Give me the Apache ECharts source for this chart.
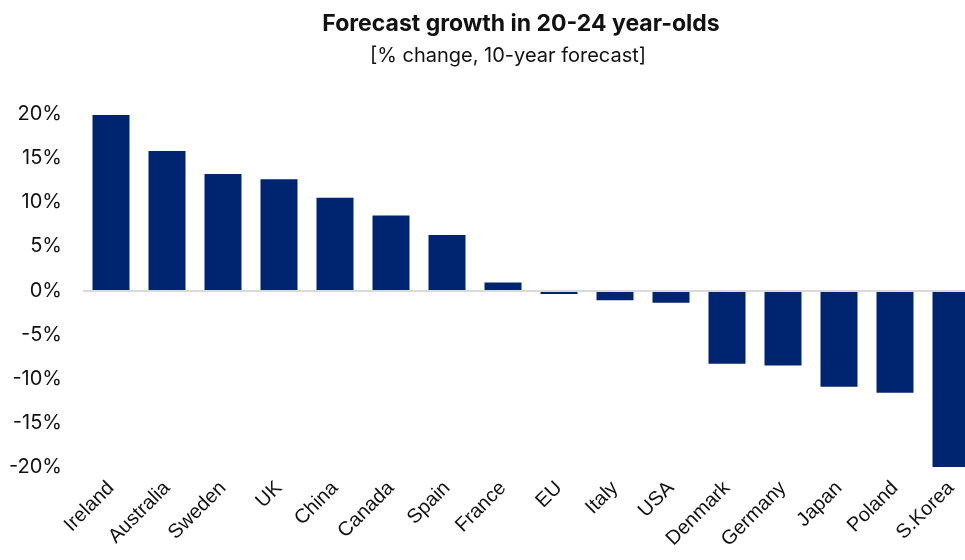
<!DOCTYPE html>
<html><head><meta charset="utf-8">
<script src="https://cdn.jsdelivr.net/npm/echarts@6/dist/echarts.min.js"></script>
<style>html,body{margin:0;padding:0;background:#fff;overflow:hidden}#c{width:980px;height:560px}</style>
</head><body><div id="c"></div>
<script>
const categories = ["Ireland","Australia","Sweden","UK","China","Canada","Spain","France","EU","Italy","USA","Denmark","Germany","Japan","Poland","S.Korea"];
const growth = [19.9, 15.8, 13.2, 12.6, 10.5, 8.5, 6.3, 0.9, -0.4, -1.1, -1.4, -8.3, -8.5, -10.9, -11.6, -20.1];
const yTicks = {min: -20, max: 20, interval: 5};
const titleText = "Forecast growth in 20-24 year-olds";
const subtitleText = "[% change, 10-year forecast]";

const chart = echarts.init(document.getElementById('c'), null, {renderer: 'canvas'});
chart.setOption({
  animation: false,
  title: [{
    text: titleText,
    left: 516, top: 8, textAlign: 'center',
    textStyle: {fontFamily: 'Inter', fontWeight: 'bold', fontSize: 23, color: '#111'}
  }, {
    text: subtitleText,
    left: 503, top: 41, textAlign: 'center',
    textStyle: {fontFamily: 'Inter', fontWeight: 'normal', fontSize: 20, color: '#111'}
  }],
  grid: {left: 83, right: 1, top: 114, bottom: 93, containLabel: false},
  xAxis: {
    type: 'category', data: categories,
    axisLine: {show: false}, axisTick: {show: false},
    axisLabel: {rotate: 45, interval: 0, margin: 18, fontFamily: 'Liberation Sans', fontSize: 20, color: '#111'}
  },
  yAxis: {
    type: 'value', min: yTicks.min, max: yTicks.max, interval: yTicks.interval,
    splitLine: {show: false}, axisLine: {show: false}, axisTick: {show: false},
    axisLabel: {margin: 21, formatter: '{value}%', fontFamily: 'Inter', fontSize: 20, color: '#111'}
  },
  series: [{
    type: 'bar', data: growth, barWidth: 37,
    itemStyle: {color: '#002570'},
    markLine: {
      silent: true, symbol: 'none', label: {show: false},
      lineStyle: {color: '#d9d9d9', type: 'solid', width: 2},
      data: [{yAxis: 0}]
    },
    z: 3
  }]
});
</script></body></html>
